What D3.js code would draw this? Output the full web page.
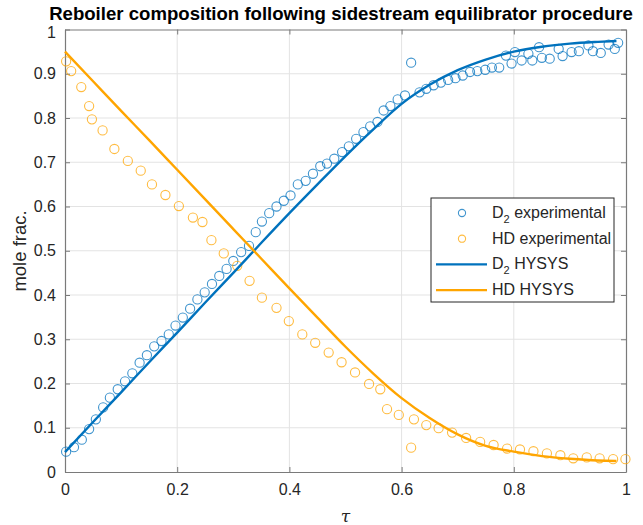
<!DOCTYPE html>
<html>
<head>
<meta charset="utf-8">
<script src="https://cdn.jsdelivr.net/npm/d3@7"></script>
<style>
  html, body { margin: 0; padding: 0; background: #fff; }
  text { font-family: "Liberation Sans", Arial, Helvetica, sans-serif; }
</style>
</head>
<body>
<div id="chart"></div>
<script>
// 实验数据: D2
const tauD2 = [0.002, 0.016, 0.030, 0.043, 0.055, 0.068, 0.080, 0.094, 0.107, 0.120,
  0.133, 0.146, 0.159, 0.172, 0.185, 0.197, 0.210, 0.223, 0.236, 0.249,
  0.262, 0.275, 0.288, 0.300, 0.314, 0.328, 0.340, 0.351, 0.364, 0.377,
  0.390, 0.402, 0.415, 0.429, 0.442, 0.455, 0.467, 0.480, 0.494, 0.506,
  0.519, 0.532, 0.544, 0.557, 0.568, 0.580, 0.593, 0.606, 0.617, 0.632,
  0.644, 0.657, 0.670, 0.683, 0.696, 0.709, 0.722, 0.735, 0.749, 0.761,
  0.774, 0.786, 0.796, 0.802, 0.814, 0.826, 0.833, 0.845, 0.850, 0.864,
  0.880, 0.887, 0.903, 0.916, 0.933, 0.941, 0.955, 0.969, 0.980, 0.986];
const fracD2 = [0.046, 0.056, 0.073, 0.097, 0.119, 0.146, 0.168, 0.187, 0.205, 0.223,
  0.247, 0.264, 0.284, 0.296, 0.311, 0.331, 0.349, 0.369, 0.390, 0.406,
  0.425, 0.443, 0.459, 0.477, 0.497, 0.511, 0.542, 0.566, 0.585, 0.600,
  0.613, 0.625, 0.650, 0.658, 0.674, 0.691, 0.697, 0.708, 0.723, 0.736,
  0.753, 0.768, 0.781, 0.791, 0.817, 0.827, 0.842, 0.851, 0.925, 0.858,
  0.866, 0.874, 0.880, 0.886, 0.890, 0.896, 0.904, 0.906, 0.909, 0.914,
  0.914, 0.941, 0.923, 0.949, 0.930, 0.945, 0.930, 0.960, 0.936, 0.934,
  0.956, 0.940, 0.949, 0.951, 0.964, 0.951, 0.947, 0.966, 0.956, 0.970];

// 实验数据: HD
const tauHD = [0.002, 0.011, 0.029, 0.043, 0.048, 0.067, 0.088, 0.112, 0.135, 0.155,
  0.179, 0.203, 0.228, 0.245, 0.261, 0.283, 0.307, 0.329, 0.351, 0.377,
  0.399, 0.423, 0.446, 0.470, 0.493, 0.517, 0.542, 0.562, 0.574, 0.595,
  0.617, 0.622, 0.644, 0.666, 0.690, 0.715, 0.740, 0.764, 0.788, 0.811,
  0.835, 0.859, 0.883, 0.906, 0.930, 0.953, 0.977, 0.999];
const fracHD = [0.928, 0.906, 0.870, 0.827, 0.797, 0.772, 0.730, 0.703, 0.681, 0.650,
  0.626, 0.601, 0.575, 0.565, 0.524, 0.494, 0.466, 0.432, 0.394, 0.371,
  0.341, 0.311, 0.292, 0.270, 0.248, 0.225, 0.199, 0.187, 0.142, 0.129,
  0.055, 0.119, 0.106, 0.099, 0.089, 0.077, 0.068, 0.061, 0.053, 0.051,
  0.047, 0.042, 0.038, 0.031, 0.033, 0.031, 0.029, 0.029];

// HYSYS 模拟曲线
const tauHysys = [0, 0.05, 0.1, 0.15, 0.2, 0.25, 0.3, 0.35, 0.4, 0.45, 0.5,
  0.55, 0.6, 0.65, 0.7, 0.75, 0.8, 0.85, 0.9, 0.95, 0.983];
const hysysD2 = [0.045, 0.113, 0.180, 0.248, 0.315, 0.383, 0.450, 0.518, 0.585, 0.650, 0.714,
  0.775, 0.832, 0.875, 0.908, 0.932, 0.950, 0.961, 0.968, 0.972, 0.974];
const hysysHD = [0.950, 0.883, 0.816, 0.750, 0.683, 0.616, 0.549, 0.482, 0.415, 0.349, 0.283,
  0.222, 0.167, 0.122, 0.085, 0.059, 0.046, 0.036, 0.030, 0.026, 0.025];

const xTicks = [0, 0.2, 0.4, 0.6, 0.8, 1];
const yTicks = [0, 0.1, 0.2, 0.3, 0.4, 0.5, 0.6, 0.7, 0.8, 0.9, 1];

const BLUE = '#0072BD';
const ORANGE = '#FFA500';

const W = 643, H = 525;
const margin = { top: 29.5, right: 17, bottom: 53, left: 65 };
const width = W - margin.left - margin.right;
const height = H - margin.top - margin.bottom;

const svg = d3.select('#chart').append('svg').attr('width', W).attr('height', H);
const g = svg.append('g').attr('transform', `translate(${margin.left},${margin.top})`);

const x = d3.scaleLinear().domain([0, 1]).range([0, width]);
const y = d3.scaleLinear().domain([0, 1]).range([height, 0]);

// 网格线
g.append('g').selectAll('line').data(xTicks.slice(1, -1)).join('line')
  .attr('x1', d => x(d)).attr('x2', d => x(d)).attr('y1', 0).attr('y2', height)
  .attr('stroke', '#e3e3e3').attr('stroke-width', 1);
g.append('g').selectAll('line').data(yTicks.slice(1, -1)).join('line')
  .attr('y1', d => y(d)).attr('y2', d => y(d)).attr('x1', 0).attr('x2', width)
  .attr('stroke', '#e3e3e3').attr('stroke-width', 1);

// 坐标轴 (刻度朝内, 四边都有)
const axisColor = '#7a7a7a';
const styleAxis = sel => {
  sel.select('.domain').attr('stroke', axisColor).attr('stroke-width', 1.2);
  sel.selectAll('.tick line').attr('stroke', axisColor);
  sel.selectAll('.tick text').attr('fill', '#262626')
    .style('font-size', '16px').style('font-family', '"Liberation Sans", Arial, sans-serif');
};
g.append('g').attr('transform', `translate(0,${height})`)
  .call(d3.axisBottom(x).tickValues(xTicks).tickFormat(d3.format('~g')).tickSizeInner(-5).tickSizeOuter(0).tickPadding(12))
  .call(styleAxis);
const yAxisG = g.append('g')
  .call(d3.axisLeft(y).tickValues(yTicks).tickFormat(d3.format('~g')).tickSizeInner(-5).tickSizeOuter(0).tickPadding(9))
  .call(styleAxis);
// 顶部 "1" 稍下移, 与标题留出间隙
yAxisG.selectAll('.tick').filter(d => d === 1).select('text').attr('dy', '0.5em');
g.append('g')
  .call(d3.axisTop(x).tickValues(xTicks).tickFormat('').tickSizeInner(-5).tickSizeOuter(0))
  .call(styleAxis);
g.append('g').attr('transform', `translate(${width},0)`)
  .call(d3.axisRight(y).tickValues(yTicks).tickFormat('').tickSizeInner(-5).tickSizeOuter(0))
  .call(styleAxis);
g.selectAll('.domain').attr('fill', 'none');

// 实验点
const d2Pts = tauD2.map((t, i) => ({ t, v: fracD2[i] }));
const hdPts = tauHD.map((t, i) => ({ t, v: fracHD[i] }));

g.append('g').selectAll('circle').data(d2Pts).join('circle')
  .attr('cx', d => x(d.t)).attr('cy', d => y(d.v)).attr('r', 4.6)
  .attr('fill', 'none').attr('stroke', BLUE).attr('stroke-opacity', 0.75).attr('stroke-width', 1.1);
g.append('g').selectAll('circle').data(hdPts).join('circle')
  .attr('cx', d => x(d.t)).attr('cy', d => y(d.v)).attr('r', 4.6)
  .attr('fill', 'none').attr('stroke', ORANGE).attr('stroke-opacity', 0.75).attr('stroke-width', 1.1);

// HYSYS 曲线
const line = d3.line().x(d => x(d.t)).y(d => y(d.v)).curve(d3.curveMonotoneX);
g.append('path').datum(tauHysys.map((t, i) => ({ t, v: hysysD2[i] })))
  .attr('d', line).attr('fill', 'none').attr('stroke', BLUE).attr('stroke-width', 2.4);
g.append('path').datum(tauHysys.map((t, i) => ({ t, v: hysysHD[i] })))
  .attr('d', line).attr('fill', 'none').attr('stroke', ORANGE).attr('stroke-width', 2.4);

// 标题与轴标签
svg.append('text').attr('x', 341).attr('y', 19.5).attr('text-anchor', 'middle')
  .style('font-size', '18.6px').style('font-weight', 'bold').attr('fill', '#000')
  .text('Reboiler composition following sidestream equilibrator procedure');
svg.append('text').attr('transform', 'translate(26,251) rotate(-90)').attr('text-anchor', 'middle')
  .style('font-size', '18.5px').attr('fill', '#262626').text('mole frac.');
svg.append('text').attr('x', margin.left + width / 2).attr('y', 522).attr('text-anchor', 'middle')
  .style('font-size', '17px').style('font-style', 'italic').style('font-family', '"DejaVu Serif", serif')
  .attr('fill', '#262626').text('τ');

// 图例
const legend = svg.append('g').attr('transform', 'translate(431,198)');
legend.append('rect').attr('width', 183).attr('height', 104)
  .attr('fill', '#fff').attr('stroke', '#262626').attr('stroke-width', 1);
const entries = [
  { main: 'D', sub: '2', rest: ' experimental', color: BLUE, type: 'marker' },
  { main: 'HD experimental', sub: null, rest: '', color: ORANGE, type: 'marker' },
  { main: 'D', sub: '2', rest: ' HYSYS', color: BLUE, type: 'line' },
  { main: 'HD HYSYS', sub: null, rest: '', color: ORANGE, type: 'line' }
];
entries.forEach((e, i) => {
  const cy = 15 + i * 25.7;
  if (e.type === 'marker') {
    legend.append('circle').attr('cx', 31).attr('cy', cy).attr('r', 3.6)
      .attr('fill', 'none').attr('stroke', e.color).attr('stroke-opacity', 0.75).attr('stroke-width', 1.1);
  } else {
    legend.append('line').attr('x1', 5).attr('x2', 56).attr('y1', cy).attr('y2', cy)
      .attr('stroke', e.color).attr('stroke-width', 2.4);
  }
  const t = legend.append('text').attr('x', 61).attr('y', cy + 5)
    .style('font-size', '16px').attr('fill', '#262626');
  t.append('tspan').text(e.main);
  if (e.sub) {
    t.append('tspan').attr('dy', 5).style('font-size', '11px').text(e.sub);
    t.append('tspan').attr('dy', -5).text(e.rest);
  }
});
</script>
</body>
</html>
